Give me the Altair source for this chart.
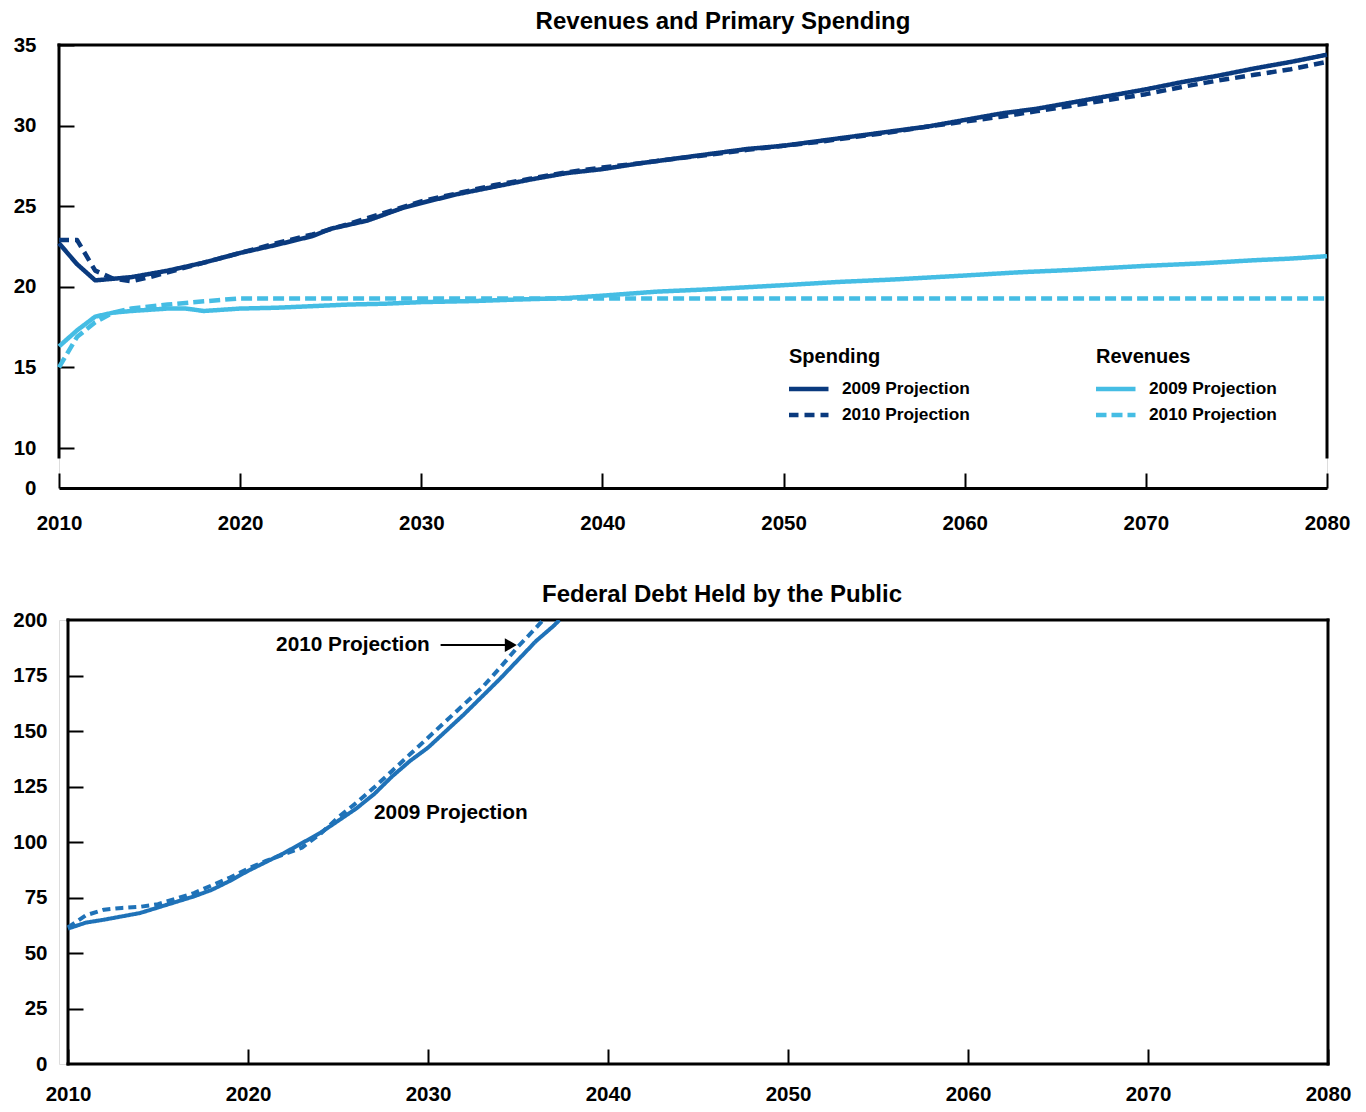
import altair as alt
import pandas as pd

NAVY = "#0a3a7e"
LIGHT = "#45bde4"
DEBT = "#1f72b8"
FONT = "Liberation Sans"
PROJS = ["2009 Projection", "2010 Projection"]

# ---------------- Revenues and Primary Spending (percent of GDP) ----------------
spend09_years = [2010, 2011, 2012, 2013, 2014, 2016, 2018, 2020, 2022, 2024, 2025, 2027, 2029, 2030,
                 2032, 2034, 2036, 2038, 2040, 2042, 2044, 2046, 2048, 2050, 2052, 2054, 2056, 2058,
                 2060, 2062, 2064, 2066, 2068, 2070, 2072, 2074, 2076, 2078, 2080]
spend09 = [22.7, 21.4, 20.4, 20.5, 20.6, 21.0, 21.5, 22.1, 22.6, 23.15, 23.6, 24.1, 24.9, 25.2,
           25.75, 26.2, 26.65, 27.05, 27.3, 27.65, 27.95, 28.25, 28.55, 28.75, 29.05, 29.35, 29.65, 29.95,
           30.35, 30.75, 31.05, 31.45, 31.85, 32.25, 32.7, 33.1, 33.55, 33.95, 34.4]

spend10_years = [2010, 2011, 2012, 2013, 2014, 2015, 2016, 2018, 2020, 2022, 2024, 2026, 2028, 2030,
                 2032, 2034, 2036, 2038, 2040, 2042, 2044, 2046, 2048, 2050, 2052, 2054, 2056, 2058,
                 2060, 2062, 2064, 2066, 2068, 2070, 2072, 2074, 2076, 2078, 2080]
spend10 = [22.9, 22.9, 21.0, 20.5, 20.35, 20.6, 20.9, 21.5, 22.1, 22.7, 23.25, 23.9, 24.6, 25.3,
           25.8, 26.3, 26.7, 27.1, 27.4, 27.65, 27.95, 28.2, 28.5, 28.75, 29.0, 29.3, 29.6, 29.95,
           30.25, 30.55, 30.9, 31.25, 31.6, 31.95, 32.4, 32.8, 33.15, 33.5, 33.95]

rev09_years = [2010, 2011, 2012, 2013, 2014, 2016, 2017, 2018, 2020, 2022, 2024, 2026, 2028, 2030,
               2033, 2035, 2038, 2040, 2043, 2046, 2050, 2053, 2056, 2060, 2063, 2066, 2070, 2073,
               2076, 2078, 2080]
rev09 = [16.3, 17.3, 18.15, 18.4, 18.5, 18.65, 18.65, 18.5, 18.65, 18.7, 18.8, 18.9, 18.95, 19.05,
         19.12, 19.2, 19.3, 19.45, 19.7, 19.85, 20.1, 20.3, 20.45, 20.7, 20.9, 21.05, 21.3, 21.45,
         21.65, 21.75, 21.9]

rev10_years = [2010, 2011, 2012, 2013, 2014, 2016, 2018, 2020, 2030, 2040, 2050, 2060, 2070, 2080]
rev10 = [15.0, 16.9, 17.8, 18.4, 18.65, 18.9, 19.1, 19.28, 19.28, 19.28, 19.28, 19.28, 19.28, 19.28]

# ---------------- Federal Debt Held by the Public (percent of GDP) ----------------
debt09_years = [2010, 2011, 2012, 2013, 2014, 2015, 2016, 2017, 2018, 2019, 2020, 2021, 2022, 2023,
                2024, 2025, 2026, 2027, 2028, 2029, 2030, 2031, 2032, 2033, 2034, 2035, 2036, 2037, 2037.3]
debt09 = [61, 63.7, 65, 66.5, 68.0, 70.5, 73, 75.5, 78.5, 82.5, 87, 91, 95, 99.5,
          104, 109.5, 115, 121.5, 129.5, 136.5, 142.5, 150, 157.5, 165.5, 173.5, 182, 190.5, 197.5, 200]

debt10_years = [2010, 2011, 2012, 2013, 2014, 2015, 2016, 2017, 2018, 2019, 2020, 2021, 2022, 2023,
                2024, 2025, 2026, 2027, 2028, 2029, 2030, 2031, 2032, 2033, 2034, 2035, 2036, 2036.4]
debt10 = [61.5, 67, 69.5, 70.3, 70.8, 72, 74.5, 77, 80.5, 84, 88, 91.5, 94.5, 97.5,
          103.5, 111, 117.5, 124.5, 132, 139.5, 147, 154.5, 162, 169.5, 178.5, 188, 196.5, 200]

# annotations (bottom panel)
ann_left_label, ann_left_year, ann_left_value = "2010 Projection", 2030.1, 188.7
ann_right_label, ann_right_year, ann_right_value = "2009 Projection", 2027.0, 113
arrow_from, arrow_to, arrow_value = 2030.7, 2034.3, 188.7
arrow_head_year = 2034.6

# frames: top panel (broken axis, sides stop short of the baseline) and bottom panel (full box)
top_frame_rows = [
    {"x": 2010, "x2": 2010, "y": 7.75, "y2": 35},
    {"x": 2080, "x2": 2080, "y": 7.75, "y2": 35},
    {"x": 2010, "x2": 2080, "y": 35, "y2": 35},
]
bottom_frame_rows = [
    {"x": 2010, "x2": 2010, "y": 0, "y2": 200},
    {"x": 2080, "x2": 2080, "y": 0, "y2": 200},
    {"x": 2010, "x2": 2080, "y": 200, "y2": 200},
    {"x": 2010, "x2": 2080, "y": 0, "y2": 0},
]


def series(years, vals, proj):
    return pd.DataFrame({"year": years, "value": vals, "proj": proj})


spend_df = pd.concat([series(spend09_years, spend09, PROJS[0]), series(spend10_years, spend10, PROJS[1])])
rev_df = pd.concat([series(rev09_years, rev09, PROJS[0]), series(rev10_years, rev10, PROJS[1])])
debt_df = pd.concat([series(debt09_years, debt09, PROJS[0]), series(debt10_years, debt10, PROJS[1])])

LBL = dict(labelFont=FONT, labelFontWeight="bold", labelColor="black", labelFontSize=20.5, labelFlush=False)
DECADES = list(range(2010, 2081, 10))

# ---------------- top panel ----------------
W1, H1 = 1268, 443
xs1 = alt.Scale(domain=[2010, 2080], nice=False, zero=False)
ys1 = alt.Scale(domain=[0, 10, 35], range=[H1, H1 - 40, 0], nice=False, zero=False)

x1_lab = alt.Axis(values=DECADES, format="d", ticks=False, domain=True, domainColor="black",
                  domainWidth=3, labelPadding=25, grid=False, title=None, orient="bottom", **LBL)
x1_tick = alt.Axis(values=DECADES, labels=False, domain=False, ticks=True, tickSize=15, tickWidth=2,
                   tickColor="black", offset=-15, grid=False, title=None, orient="bottom")
y1_lab = alt.Axis(values=[0, 10, 15, 20, 25, 30, 35], ticks=False, domain=False, labelPadding=23,
                  grid=False, title=None, orient="left", **LBL)
y1_tick = alt.Axis(values=[10, 15, 20, 25, 30, 35], labels=False, domain=False, ticks=True, tickSize=15,
                   tickWidth=2, tickColor="black", offset=-15, grid=False, title=None, orient="left")


def legend(title, lx):
    return alt.Legend(title=title, orient="none", legendX=lx, legendY=302, direction="vertical",
                      symbolType="stroke", symbolSize=1600, symbolStrokeWidth=4.5, clipHeight=20,
                      rowPadding=6, labelOffset=11, symbolOffset=-3, titlePadding=12, padding=0,
                      titleFont=FONT, titleFontWeight="bold", titleFontSize=20, titleColor="black",
                      labelFont=FONT, labelFontWeight="bold", labelFontSize=17.3, labelColor="black")


frame1 = alt.Chart(pd.DataFrame(top_frame_rows)).mark_rule(
    color="black", strokeWidth=3, strokeCap="square").encode(
    x=alt.X("x:Q", scale=xs1, axis=None), x2="x2:Q",
    y=alt.Y("y:Q", scale=ys1, axis=None), y2="y2:Q")

rev = alt.Chart(rev_df).mark_line(color=LIGHT, strokeWidth=4.5, strokeJoin="round").encode(
    x=alt.X("year:Q", scale=xs1, axis=x1_tick),
    y=alt.Y("value:Q", scale=ys1, axis=y1_tick),
    strokeDash=alt.StrokeDash("proj:N", scale=alt.Scale(domain=PROJS, range=[[1, 0], [11, 5]]),
                              legend=legend("Revenues", 1037)),
    detail="proj:N")

spend = alt.Chart(spend_df).mark_line(color=NAVY, strokeWidth=4.5, strokeJoin="round").encode(
    x=alt.X("year:Q", scale=xs1, axis=x1_lab),
    y=alt.Y("value:Q", scale=ys1, axis=y1_lab),
    strokeDash=alt.StrokeDash("proj:N", scale=alt.Scale(domain=PROJS, range=[[1, 0], [10, 6]]),
                              legend=legend("Spending", 730)),
    detail="proj:N")

top = alt.layer(frame1, rev, spend).resolve_scale(strokeDash="independent").resolve_axis(
    x="independent", y="independent").properties(
    width=W1, height=H1,
    title=alt.TitleParams("Revenues and Primary Spending", font=FONT, fontWeight="bold", fontSize=24,
                          color="black", dx=30, offset=1, anchor="middle"))

# ---------------- bottom panel ----------------
# the bottom panel's plot area starts 9px further right than the top one: its scale begins
# half a year before 2010 and its frame is drawn at 2010
W2, H2 = 1269, 444
xs2 = alt.Scale(domain=[2009.5, 2080], nice=False, zero=False)
ys2 = alt.Scale(domain=[0, 200], nice=False, zero=True)

x2_lab = alt.Axis(values=DECADES, format="d", ticks=False, domain=False, labelPadding=20, grid=False,
                  title=None, orient="bottom", **LBL)
x2_tick = alt.Axis(values=DECADES, labels=False, domain=False, ticks=True, tickSize=15, tickWidth=2,
                   tickColor="black", offset=-15, grid=False, title=None, orient="bottom")
y2_lab = alt.Axis(values=list(range(0, 201, 25)), ticks=False, domain=False, labelPadding=21, grid=False,
                  title=None, orient="left", offset=-9, **LBL)
y2_tick = alt.Axis(values=list(range(25, 200, 25)), labels=False, domain=False, ticks=True, tickSize=15,
                   tickWidth=2, tickColor="black", offset=-24, grid=False, title=None, orient="left")

frame2 = alt.Chart(pd.DataFrame(bottom_frame_rows)).mark_rule(
    color="black", strokeWidth=3, strokeCap="square").encode(
    x=alt.X("x:Q", scale=xs2, axis=None), x2="x2:Q",
    y=alt.Y("y:Q", scale=ys2, axis=None), y2="y2:Q")

debt = alt.Chart(debt_df).mark_line(color=DEBT, strokeWidth=4, strokeJoin="round", clip=True).encode(
    x=alt.X("year:Q", scale=xs2, axis=x2_lab),
    y=alt.Y("value:Q", scale=ys2, axis=y2_lab),
    strokeDash=alt.StrokeDash("proj:N", scale=alt.Scale(domain=PROJS, range=[[1, 0], [8, 5]]), legend=None),
    detail="proj:N")

TXT = dict(font=FONT, fontWeight="bold", fontSize=20.8, color="black", baseline="middle")
ann1 = alt.Chart(pd.DataFrame({"year": [ann_left_year], "value": [ann_left_value],
                               "label": [ann_left_label]})).mark_text(align="right", **TXT).encode(
    x=alt.X("year:Q", scale=xs2, axis=x2_tick), y=alt.Y("value:Q", scale=ys2, axis=y2_tick), text="label:N")
ann2 = alt.Chart(pd.DataFrame({"year": [ann_right_year], "value": [ann_right_value],
                               "label": [ann_right_label]})).mark_text(align="left", **TXT).encode(
    x=alt.X("year:Q", scale=xs2, axis=None), y=alt.Y("value:Q", scale=ys2, axis=None), text="label:N")
arrow = alt.Chart(pd.DataFrame({"x": [arrow_from], "x2": [arrow_to], "y": [arrow_value]})).mark_rule(
    color="black", strokeWidth=2).encode(
    x=alt.X("x:Q", scale=xs2, axis=None), x2="x2:Q", y=alt.Y("y:Q", scale=ys2, axis=None))
head = alt.Chart(pd.DataFrame({"x": [arrow_head_year], "y": [arrow_value]})).mark_point(
    shape="triangle-right", filled=True, color="black", size=190, opacity=1).encode(
    x=alt.X("x:Q", scale=xs2, axis=None), y=alt.Y("y:Q", scale=ys2, axis=None))

bottom = alt.layer(frame2, debt, ann1, ann2, arrow, head).resolve_axis(
    x="independent", y="independent").properties(
    width=W2, height=H2,
    title=alt.TitleParams("Federal Debt Held by the Public", font=FONT, fontWeight="bold", fontSize=24,
                          color="black", dx=28.5, offset=3, anchor="middle"))

chart = alt.vconcat(top, bottom, spacing=48).properties(
    padding={"left": 4, "top": 1, "right": 5, "bottom": 0}
).configure_view(stroke=None).configure(background="white")

chart.save("out.html", embed_options={"renderer": "svg", "actions": False})
